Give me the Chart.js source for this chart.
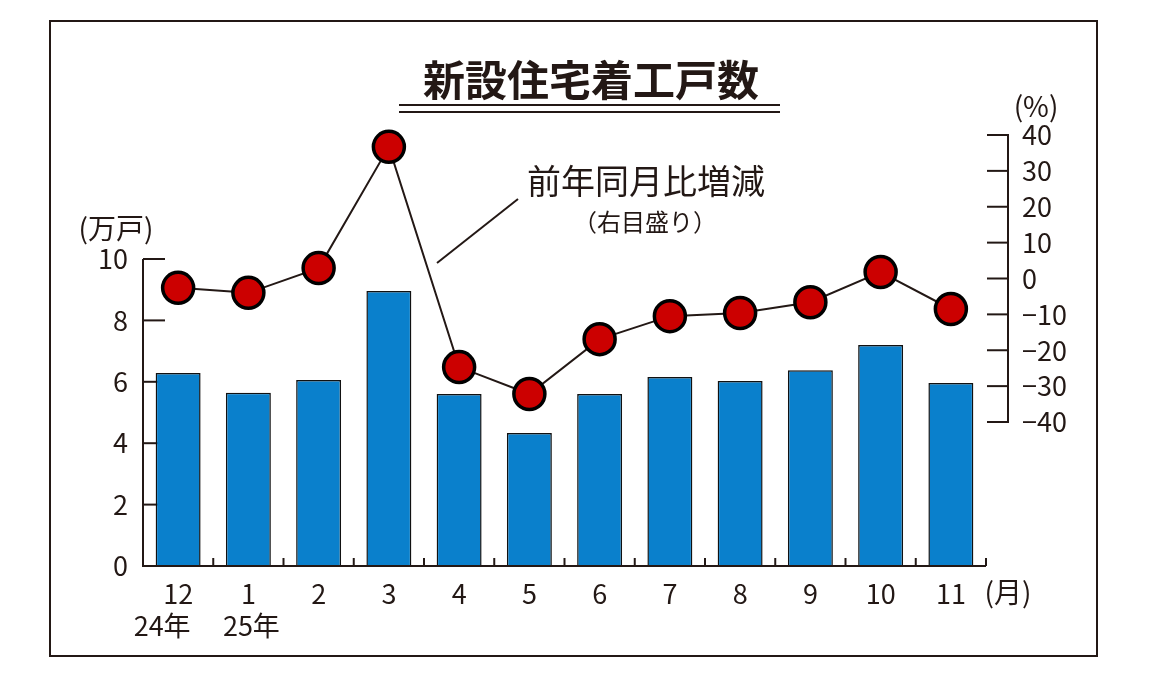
<!DOCTYPE html>
<html lang="ja">
<head>
<meta charset="utf-8">
<title>新設住宅着工戸数</title>
<script src="https://cdn.jsdelivr.net/npm/chart.js@4.4.0/dist/chart.umd.min.js"></script>
<style>
  html, body { margin: 0; padding: 0; background: #fff; }
  canvas { display: block; }
</style>
</head>
<body>
<canvas id="myChart" width="1151" height="679"></canvas>
<script>
// data
const months = ['12', '1', '2', '3', '4', '5', '6', '7', '8', '9', '10', '11'];
const years = ['24年', '25年'];
const starts = [6.29, 5.64, 6.06, 8.96, 5.60, 4.33, 5.60, 6.16, 6.03, 6.38, 7.20, 5.96]; // 万戸
const yoy = [-2.6, -4.0, 2.9, 36.7, -24.7, -32.2, -16.9, -10.5, -9.6, -6.6, 1.8, -8.5]; // %
const leftTicks = [0, 2, 4, 6, 8, 10];
const rightTicks = [40, 30, 20, 10, 0, -10, -20, -30, -40];

const FONT = '"Noto Sans CJK JP", "Noto Sans", sans-serif';
const INK = '#231815';

function seg(ctx, x1, y1, x2, y2) {
    ctx.beginPath();
    ctx.moveTo(x1, y1);
    ctx.lineTo(x2, y2);
    ctx.stroke();
}

function text(ctx, str, x, y, size, weight, align) {
    ctx.font = (weight || 'normal') + ' ' + size + 'px ' + FONT;
    ctx.textAlign = align || 'center';
    ctx.textBaseline = 'middle';
    ctx.fillText(str, x, y);
}

const decor = {
    id: 'decor',
    beforeDatasetsDraw(chart) {
        const { ctx, chartArea: a, scales: { y } } = chart;
        ctx.save();
        ctx.strokeStyle = INK;
        ctx.lineWidth = 2;
        // left ticks point inward, under the bars
        leftTicks.forEach(v => {
            if (v === 0) return;
            const py = y.getPixelForValue(v);
            seg(ctx, a.left, py, a.left + 22, py);
        });
        ctx.restore();
    },
    afterDatasetsDraw(chart) {
        const { ctx, chartArea: a, scales: { x, y, y2 } } = chart;
        ctx.save();
        ctx.strokeStyle = INK;
        ctx.fillStyle = INK;
        ctx.lineWidth = 2;

        // left axis + x axis
        seg(ctx, a.left, y.getPixelForValue(10), a.left, y.getPixelForValue(0) + 1);
        seg(ctx, a.left, a.bottom, a.right, a.bottom);
        for (let i = 1; i <= months.length; i++) {
            const px = x.getPixelForValue(i - 0.5);
            seg(ctx, px, a.bottom, px, a.bottom - 8);
        }

        // right axis sits off the plot, ticks reach back to it
        const xr = a.right + 22;
        seg(ctx, xr, y2.getPixelForValue(40) - 1, xr, y2.getPixelForValue(-40) + 1);
        rightTicks.forEach(v => {
            const py = y2.getPixelForValue(v);
            seg(ctx, a.right + 1, py, xr, py);
        });

        // units
        text(ctx, '(万戸)', 116, 228, 28);
        text(ctx, '(%)', 1036, 106, 28);
        text(ctx, '(月)', 1008, 592, 28);

        // year under the month
        const shift = [-16, 3];
        years.forEach((s, i) => {
            text(ctx, s, x.getPixelForValue(i) + shift[i], 626, 27);
        });

        // title with double rule
        text(ctx, '新設住宅着工戸数', 591, 80, 42, 'bold');
        seg(ctx, 399, 105, 780, 105);
        seg(ctx, 399, 112, 780, 112);

        // series note with leader
        text(ctx, '前年同月比増減', 646, 181, 34);
        text(ctx, '（右目盛り）', 645, 222, 24);
        seg(ctx, 518, 199, 437, 263);

        // frame
        ctx.strokeRect(50, 21, 1047, 635);
        ctx.restore();
    }
};

const ctx = document.getElementById('myChart').getContext('2d');
const myChart = new Chart(ctx, {
    data: {
        labels: months,
        datasets: [{
            type: 'line',
            label: '前年同月比増減',
            data: yoy,
            yAxisID: 'y2',
            order: 0,
            clip: false,
            borderColor: INK,
            borderWidth: 2,
            pointRadius: 15.5,
            pointBorderWidth: 3.5,
            pointBackgroundColor: '#cc0000',
            pointBorderColor: '#000',
            tension: 0
        }, {
            type: 'bar',
            label: '新設住宅着工戸数',
            data: starts,
            yAxisID: 'y',
            order: 1,
            backgroundColor: '#0a80cc',
            borderColor: '#111',
            borderWidth: 1.5,
            borderSkipped: 'bottom',
            barPercentage: 0.64,
            categoryPercentage: 1
        }]
    },
    options: {
        responsive: false,
        animation: false,
        layout: { padding: { top: 135, left: 0, right: 0, bottom: 0 } },
        scales: {
            x: {
                grid: { display: false, drawTicks: false },
                border: { display: false },
                ticks: {
                    color: INK,
                    padding: 12,
                    maxRotation: 0,
                    minRotation: 0,
                    font: { family: FONT, size: 27 }
                },
                afterFit(scale) { scale.height = 113; }
            },
            y: {
                position: 'left',
                min: 0,
                max: 431 / 30.7,
                grid: { display: false, drawTicks: false },
                border: { display: false },
                ticks: {
                    stepSize: 2,
                    color: INK,
                    padding: 15,
                    font: { family: FONT, size: 27 },
                    callback: function(value) {
                        return leftTicks.includes(value) ? String(value) : '';
                    }
                },
                afterFit(scale) { scale.width = 143; }
            },
            y2: {
                position: 'right',
                max: 40,
                min: 40 - 431 / 3.5875,
                grid: { display: false, drawTicks: false },
                border: { display: false },
                ticks: {
                    stepSize: 10,
                    color: INK,
                    padding: 36,
                    font: { family: FONT, size: 27 },
                    callback: function(value) {
                        if (!rightTicks.includes(value)) return '';
                        return value < 0 ? '\u2212' + Math.abs(value) : String(value);
                    }
                },
                afterFit(scale) { scale.width = 165; }
            }
        },
        plugins: {
            legend: { display: false },
            tooltip: { enabled: false }
        }
    },
    plugins: [decor]
});
</script>
</body>
</html>
